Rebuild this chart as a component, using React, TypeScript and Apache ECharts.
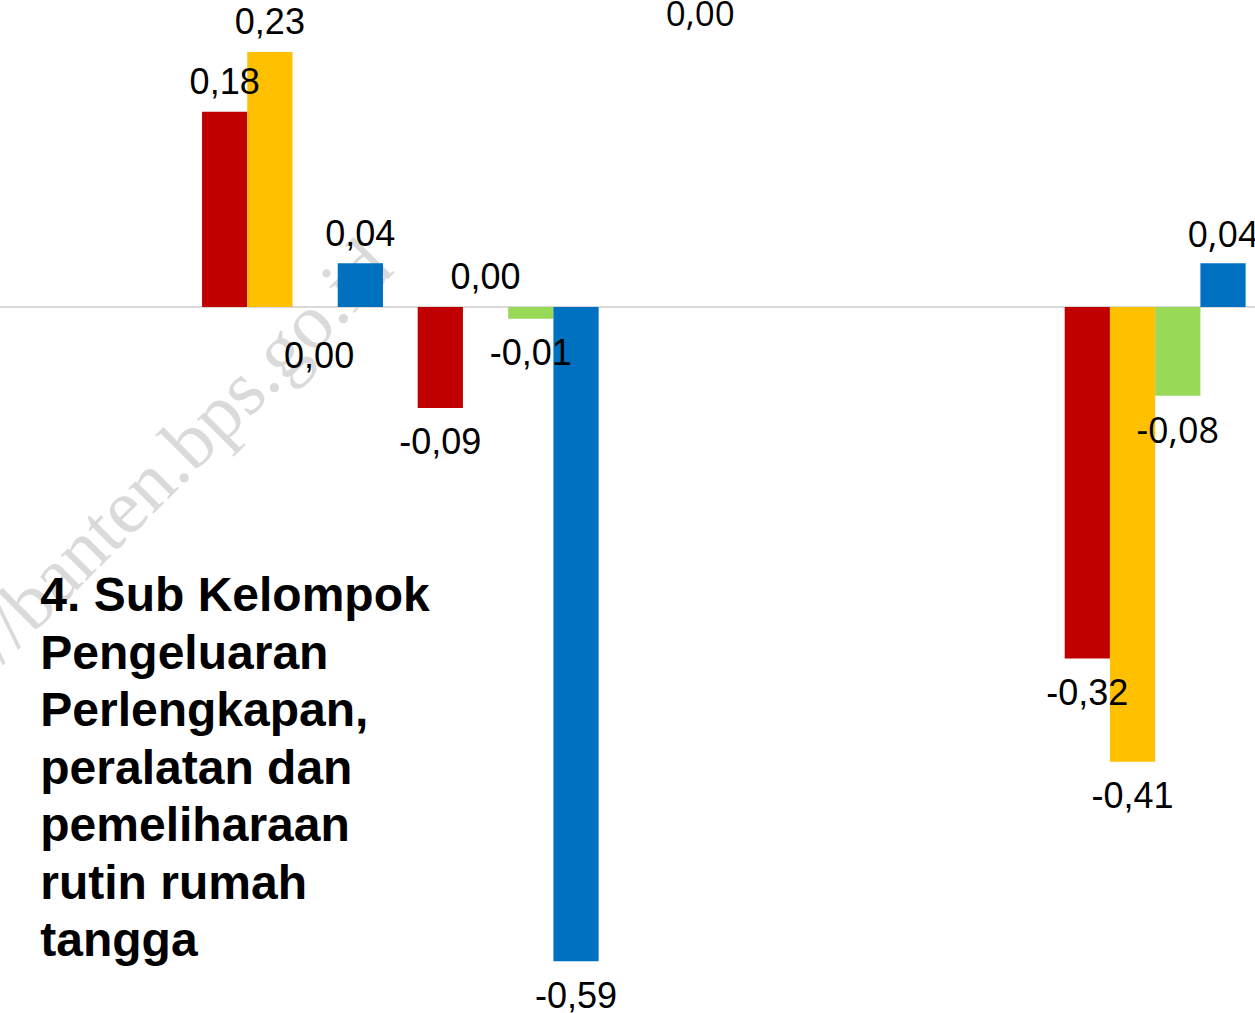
import React, { useEffect, useRef } from "react";
import * as echarts from "echarts";

// ---- data ----
const categories = ["K1", "K2", "K3", "K4", "K5", "K6"];
const seriesNames = ["Seri 1", "Seri 2", "Seri 3", "Seri 4"];
const seriesColors = ["#C00000", "#FFC000", "#99D958", "#0070C0"];
const redValues = [null, 0.176, -0.091, null, null, -0.317];
const yellowValues = [null, 0.23, 0.0, null, null, -0.41];
const greenValues = [null, 0.0, -0.0105, null, null, -0.08];
const blueValues = [null, 0.0395, -0.59, null, null, 0.0395];
// zero values whose label sits under the axis: [seriesIndex, categoryIndex]
const zeroLabelsBelow = [[2, 1]];
// labels drawn in the second font: [seriesIndex, categoryIndex]
const altFontLabels = [[2, 5], [3, 5]];
const titleLines = [
  "4. Sub Kelompok",
  "Pengeluaran",
  "Perlengkapan,",
  "peralatan dan",
  "pemeliharaan",
  "rutin rumah",
  "tangga",
];
const watermarkText = "https://banten.bps.go.id";
const strayLabel = "0,00";

const allValues = [redValues, yellowValues, greenValues, blueValues];

// chart canvas is wider than the page: it starts left of the page edge
const SHIFT = 31.3;
const CHART_W = 1293.6;

const fmt = (v: number) => {
  const s = v.toFixed(2);
  return (s === "-0.00" ? "0.00" : s).replace(".", ",");
};

export default function App() {
  const ref = useRef<HTMLDivElement>(null);
  useEffect(() => {
    if (!ref.current) return;
    const chart = echarts.init(ref.current, null, { renderer: "svg" });
    const series = allValues.map((vals, si) => ({
      name: seriesNames[si],
      type: "bar",
      barGap: "0%",
      barCategoryGap: "16.1%",
      itemStyle: { color: seriesColors[si] },
      z: 3,
      data: vals.map((v, ci) => {
        if (v === null) return null;
        const below = zeroLabelsBelow.some((p) => p[0] === si && p[1] === ci);
        const alt = altFontLabels.some((p) => p[0] === si && p[1] === ci);
        const neg = v < 0;
        let label: any = {
          show: true,
          position: neg || below ? "bottom" : "top",
          distance: neg ? 16 : 12,
        };
        if (below) {
          label.distance = 31;
          label.offset = [4, 0];
        }
        if (alt) label.fontFamily = "Open Sans";
        return { value: v, label };
      }),
      label: {
        show: true,
        color: "#000",
        fontSize: 36,
        fontFamily: "Liberation Sans, Arial, sans-serif",
        formatter: (p: any) => fmt(p.value),
      },
    }));
    chart.setOption({
      animation: false,
      backgroundColor: "#fff",
      grid: { left: 0, right: 0, top: 0, bottom: 0, containLabel: false },
      xAxis: {
        type: "category",
        data: categories,
        axisLine: { show: true, onZero: true, lineStyle: { color: "#D9D9D9", width: 2 } },
        axisTick: { show: false },
        axisLabel: { show: false },
        splitLine: { show: false },
        z: 2,
      },
      yAxis: {
        type: "value",
        min: -0.6366,
        max: 0.2768,
        axisLine: { show: false },
        axisTick: { show: false },
        axisLabel: { show: false },
        splitLine: { show: false },
      },
      series,
      graphic: [
        {
          type: "text",
          x: 377 + SHIFT,
          y: 253,
          rotation: Math.PI / 4,
          z: 0,
          silent: true,
          style: {
            text: watermarkText,
            fontSize: 78,
            fontFamily: "Liberation Serif, Times New Roman, serif",
            fill: "#DADADA",
            textAlign: "right",
            textVerticalAlign: "middle",
          },
        },
        {
          type: "text",
          x: 40 + SHIFT,
          y: 566,
          z: 10,
          style: {
            text: titleLines.join("\n"),
            fontSize: 48,
            fontWeight: "bold",
            fontFamily: "Liberation Sans, Arial, sans-serif",
            lineHeight: 57.5,
            fill: "#000",
            textAlign: "left",
            textVerticalAlign: "top",
          },
        },
        {
          type: "text",
          x: 700 + SHIFT,
          y: 12.5,
          z: 10,
          style: {
            text: strayLabel,
            fontSize: 35,
            fontFamily: "Open Sans, sans-serif",
            fill: "#000",
            textAlign: "center",
            textVerticalAlign: "middle",
          },
        },
      ],
    });
    return () => chart.dispose();
  }, []);
  return (
    <div
      style={{
        position: "fixed",
        left: 0,
        top: 0,
        width: 1255,
        height: 1013,
        overflow: "hidden",
        background: "#fff",
      }}
    >
      <div
        ref={ref}
        style={{ position: "absolute", left: -SHIFT, top: 0, width: CHART_W, height: 1013 }}
      />
    </div>
  );
}
